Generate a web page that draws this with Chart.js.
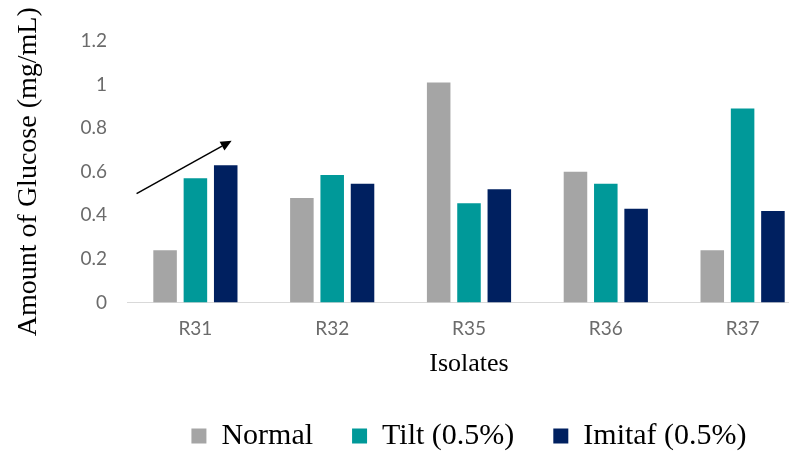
<!DOCTYPE html>
<html>
<head>
<meta charset="utf-8">
<script src="https://cdn.jsdelivr.net/npm/chart.js@4.4.1/dist/chart.umd.min.js"></script>
<style>
html,body{margin:0;padding:0;overflow:hidden;background:#fff;}
#wrap{width:811px;height:461px;}
</style>
</head>
<body>
<div id="wrap"><canvas id="c" width="811" height="461"></canvas></div>
<script>
// ---- data ----
const categories = ['R31', 'R32', 'R35', 'R36', 'R37'];
const seriesNames = ['Normal', 'Tilt (0.5%)', 'Imitaf (0.5%)'];
const normalValues = [0.24, 0.48, 1.01, 0.60, 0.24];
const tiltValues = [0.57, 0.585, 0.455, 0.545, 0.89];
const imitafValues = [0.63, 0.545, 0.52, 0.43, 0.42];
const yTicks = [0, 0.2, 0.4, 0.6, 0.8, 1, 1.2];
const yAxisTitle = 'Amount of Glucose (mg/mL)';
const xAxisTitle = 'Isolates';
// trend arrow annotation, in data units (category index, value)
const arrowFrom = { x: -0.43, y: 0.50 };
const arrowTo = { x: 0.265, y: 0.742 };

const colors = ['#a5a5a5', '#009999', '#002060'];

const arrowPlugin = {
  id: 'trendArrow',
  afterDatasetsDraw(chart) {
    const { ctx, scales: { x, y } } = chart;
    const x1 = x.getPixelForValue(arrowFrom.x), y1 = y.getPixelForValue(arrowFrom.y);
    const x2 = x.getPixelForValue(arrowTo.x), y2 = y.getPixelForValue(arrowTo.y);
    const ang = Math.atan2(y2 - y1, x2 - x1);
    const headLen = 11, headHalf = 5;
    const bx = x2 - headLen * Math.cos(ang), by = y2 - headLen * Math.sin(ang);
    ctx.save();
    ctx.strokeStyle = '#000';
    ctx.fillStyle = '#000';
    ctx.lineWidth = 1.5;
    ctx.beginPath();
    ctx.moveTo(x1, y1);
    ctx.lineTo(bx, by);
    ctx.stroke();
    ctx.beginPath();
    ctx.moveTo(x2, y2);
    ctx.lineTo(bx + headHalf * Math.sin(ang), by - headHalf * Math.cos(ang));
    ctx.lineTo(bx - headHalf * Math.sin(ang), by + headHalf * Math.cos(ang));
    ctx.closePath();
    ctx.fill();
    ctx.restore();
  }
};

const seriesValues = [normalValues, tiltValues, imitafValues];

new Chart(document.getElementById('c'), {
  type: 'bar',
  data: {
    labels: categories,
    datasets: seriesNames.map((name, i) => ({
      label: name,
      data: seriesValues[i],
      backgroundColor: colors[i],
      borderWidth: 0,
      categoryPercentage: 0.665,
      barPercentage: 0.776
    }))
  },
  options: {
    responsive: false,
    animation: false,
    layout: { padding: { top: 41, left: 0, right: 0, bottom: 0 } },
    plugins: {
      tooltip: { enabled: false },
      legend: {
        position: 'bottom',
        fullSize: false,
        labels: {
          font: { family: 'Liberation Serif', size: 30 },
          color: '#000',
          boxWidth: 15,
          boxHeight: 15,
          padding: 39
        }
      }
    },
    scales: {
      x: {
        grid: { display: false, drawTicks: false },
        border: { display: true, color: '#d9d9d9', width: 1 },
        ticks: {
          font: { family: 'Lato', size: 19 },
          color: '#6b6b6b',
          padding: 15
        },
        title: {
          display: true,
          text: xAxisTitle,
          font: { family: 'Liberation Serif', size: 26 },
          color: '#000',
          padding: { top: 0, bottom: 2 }
        },
        afterFit(scale) { scale.height = 79.5; }
      },
      y: {
        min: 0,
        max: 1.2,
        grid: { display: false, drawTicks: false },
        border: { display: false },
        afterBuildTicks(scale) { scale.ticks = yTicks.map(v => ({ value: v })); },
        ticks: {
          font: { family: 'Lato', size: 19 },
          color: '#6b6b6b',
          padding: 20,
          callback: v => String(parseFloat(Number(v).toFixed(1)))
        },
        title: {
          display: true,
          text: yAxisTitle,
          font: { family: 'Liberation Serif', size: 28 },
          color: '#000',
          padding: { top: 12, bottom: 0 }
        },
        afterFit(scale) { scale.width = 127; }
      }
    }
  },
  plugins: [arrowPlugin]
});
</script>
</body>
</html>
